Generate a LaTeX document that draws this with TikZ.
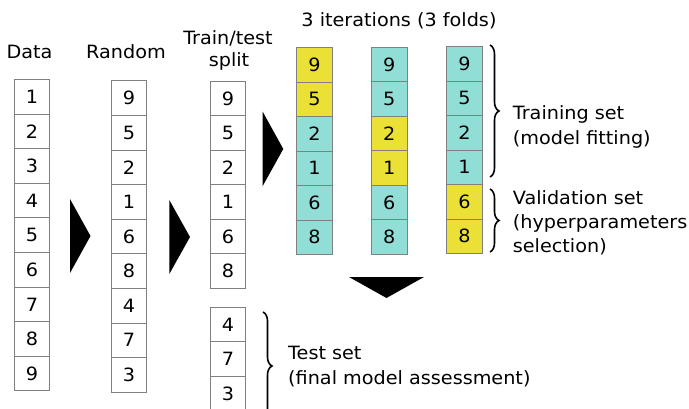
\documentclass[tikz,border=0pt]{standalone}
\usepackage{fontspec}
\setmainfont{DejaVu Sans}[FakeStretch=1.05]
\usetikzlibrary{decorations.pathreplacing}
\definecolor{foldcyan}{RGB}{145,222,214}
\definecolor{foldyellow}{RGB}{235,224,54}
\definecolor{cellgray}{RGB}{128,128,128}
\tikzset{
  cellbox/.style={draw=cellgray, line width=1pt, minimum width=35pt,
    minimum height=34.6pt, inner sep=0pt, anchor=north west,
    font=\fontsize{18.3}{21}\selectfont},
  foldbox/.style={cellbox, minimum width=36pt, minimum height=34.5pt},
  lbl/.style={inner sep=0pt, anchor=base, font=\fontsize{18.3}{21}\selectfont},
  note/.style={inner sep=0pt, anchor=base west, font=\fontsize{18.3}{21}\selectfont},
  bracebar/.style={decorate, decoration={brace, amplitude=9pt}, line width=1.6pt},
  pointer/.style={fill=black}
}
\begin{document}
\begin{tikzpicture}[x=1pt, y=-1pt]
\useasboundingbox (0,0) rectangle (689,408);

% column headings
\node[lbl] (hdata) at (29.5,58) {Data};
\node[lbl] (hrand) at (126,58) {Random};
\node[lbl] (hsplit) at (228,44) {Train/test};
\node[lbl] (hsplitb) at (229,66.5) {split};
\node[lbl] (hfolds) at (399,26) {3 iterations (3 folds)};

% original data
\foreach \v [count=\i] in {1,2,3,4,5,6,7,8,9}
  \node[cellbox] (data\i) at (14,{79+(\i-1)*34.6}) {\v};

% shuffled data
\foreach \v [count=\i] in {9,5,2,1,6,8,4,7,3}
  \node[cellbox] (rand\i) at (111,{80.3+(\i-1)*34.6}) {\v};

% train part of the split
\foreach \v [count=\i] in {9,5,2,1,6,8}
  \node[cellbox, minimum height=34.5pt] (train\i) at (210,{80.7+(\i-1)*34.5}) {\v};

% test part of the split
\foreach \v [count=\i] in {4,7,3}
  \node[cellbox] (test\i) at (210,{306.7+(\i-1)*34.6}) {\v};

% the three folds
\foreach \v/\c [count=\i] in {9/foldyellow,5/foldyellow,2/foldcyan,1/foldcyan,6/foldcyan,8/foldcyan}
  \node[foldbox, fill=\c] (foldA\i) at (296,{47+(\i-1)*34.5}) {\v};
\foreach \v/\c [count=\i] in {9/foldcyan,5/foldcyan,2/foldyellow,1/foldyellow,6/foldcyan,8/foldcyan}
  \node[foldbox, fill=\c] (foldB\i) at (370.7,{46.7+(\i-1)*34.5}) {\v};
\foreach \v/\c [count=\i] in {9/foldcyan,5/foldcyan,2/foldcyan,1/foldcyan,6/foldyellow,8/foldyellow}
  \node[foldbox, fill=\c] (foldC\i) at (446,{46+(\i-1)*34.5}) {\v};

% step pointers
\fill[pointer] (70,199) -- (90.5,236) -- (70,273) -- cycle;
\fill[pointer] (169.3,200) -- (190,237) -- (169.3,274) -- cycle;
\fill[pointer] (262.7,111.7) -- (283.3,149) -- (262.7,186) -- cycle;
\fill[pointer] (349,277) -- (424,277) -- (386.5,298) -- cycle;

% braces and their labels
\draw[bracebar] (490,45) -- (490,177);
\draw[bracebar] (490,189) -- (490,252);
\draw[bracebar] (263,312) -- (263,420);

\node[note] (trainlbl) at (512.7,119) {Training set};
\node[note] (trainlblb) at (512.7,144) {(model fitting)};
\node[note] (vallbl) at (512.7,204) {Validation set};
\node[note] (vallblb) at (512.7,228) {(hyperparameters};
\node[note] (vallblc) at (512.7,252) {selection)};
\node[note] (testlbl) at (288,359.3) {Test set};
\node[note] (testlblb) at (288,384) {(final model assessment)};
\end{tikzpicture}
\end{document}
